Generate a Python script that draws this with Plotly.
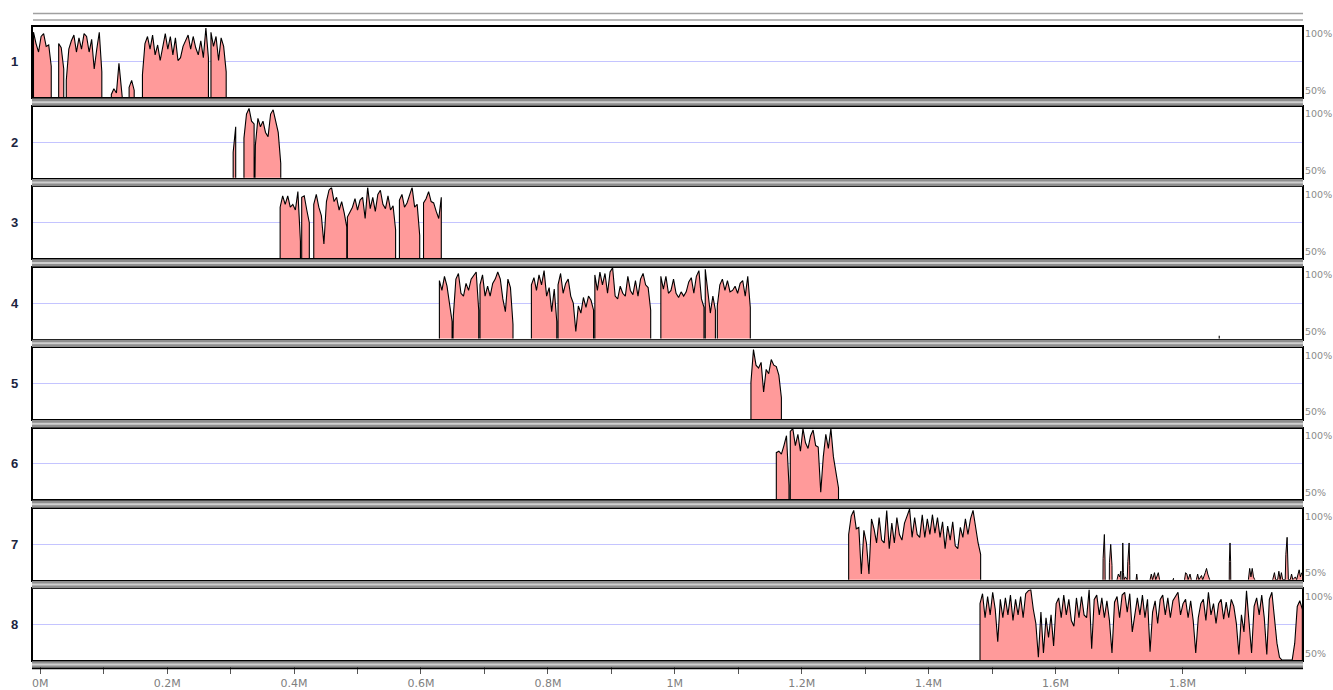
import plotly.graph_objects as go

# ---------------- data (conservation %, sampled every STEP_KB kb) ----------------
STEP_KB = 4
X_RANGE_KB = [-11.5, 1988.5]
Y_RANGE_PCT = [50, 100]

track_labels = ["1", "2", "3", "4", "5", "6", "7", "8"]

t1_starts = [-10.7, 29, 41, 112, 140, 161, 269]
t1_values = [
    [96, 88, 82, 93, 95, 86, 87, 72],
    [88, 85, 70],
    [62, 84, 90, 94, 82, 92, 84, 95, 93, 82, 91, 70, 84, 96, 68],
    [52, 56, 53, 74, 52],
    [57, 62, 55],
    [66, 88, 93, 84, 94, 80, 87, 76, 86, 95, 84, 93, 80, 92, 76, 78, 86, 90, 94, 84, 93, 85, 80, 90, 78, 99, 78],
    [96, 86, 93, 76, 92, 86, 68],
]

t2_starts = [304, 321, 339]
t2_values = [
    [68, 86],
    [78, 95, 99, 90, 88],
    [73, 92, 86, 90, 82, 79, 95, 98, 90, 82, 60],
]

t3_starts = [378, 412, 431, 484, 566, 604]
t3_values = [
    [86, 94, 88, 94, 86, 88, 84, 97, 62],
    [93, 94, 84, 75],
    [88, 95, 86, 80, 60, 90, 98, 100, 90, 93, 84, 90, 82, 72],
    [79, 82, 86, 92, 84, 91, 93, 78, 100, 85, 93, 83, 95, 98, 88, 85, 94, 84, 87, 70],
    [91, 95, 86, 89, 94, 100, 86, 88, 66],
    [89, 92, 97, 90, 89, 83, 78, 93],
]

t4_starts = [629, 651, 693, 774, 816, 874, 978, 1048, 1067, 1858]
t4_values = [
    [91, 84, 94, 87, 76, 62],
    [66, 92, 96, 82, 80, 89, 84, 92, 95, 97, 70],
    [88, 95, 80, 87, 80, 89, 92, 97, 92, 78, 69, 92, 86, 60],
    [88, 93, 84, 95, 88, 98, 80, 86, 69, 85, 62],
    [88, 96, 82, 89, 92, 80, 75, 55, 73, 68, 79, 72, 80, 77, 70],
    [95, 84, 97, 88, 96, 82, 97, 100, 80, 78, 87, 82, 80, 94, 84, 81, 91, 80, 92, 96, 88, 86, 70],
    [94, 85, 94, 82, 84, 92, 82, 79, 83, 80, 83, 90, 93, 82, 94, 98, 78, 72],
    [99, 82, 68, 80, 70],
    [73, 88, 92, 84, 91, 83, 84, 87, 82, 89, 91, 80, 94, 72],
    [52],
]

t5_starts = [1120]
t5_values = [
    [76, 99, 88, 86, 90, 69, 85, 82, 92, 88, 87, 81, 65],
]

t6_starts = [1160, 1182]
t6_values = [
    [83, 84, 82, 88, 95, 60],
    [98, 100, 88, 96, 84, 100, 90, 86, 95, 99, 88, 87, 55, 80, 96, 86, 100, 80, 70, 58],
]

t7_starts = [1274]
t7_values = [
    [82, 95, 99, 86, 87, 54, 85, 76, 54, 93, 86, 76, 94, 78, 76, 99, 72, 90, 76, 94,
     82, 78, 90, 95, 100, 80, 94, 82, 80, 96, 80, 93, 82, 96, 83, 94, 80, 91, 72, 88,
     78, 91, 74, 72, 87, 80, 93, 82, 93, 99, 86, 76, 68],
]
# sparse low-conservation hits in track 7 (0 = no alignment)
t7_sparse_kb = [1674, 1675, 1677, 1678, 1679,
                1684, 1685, 1687, 1689, 1690,
                1697, 1699, 1701, 1703, 1704, 1705, 1706, 1707, 1708, 1710,
                1713, 1714, 1716, 1717, 1718,
                1727, 1728, 1729, 1730,
                1749, 1751, 1753, 1756, 1758, 1760, 1762, 1764, 1765,
                1785, 1786, 1787,
                1803, 1805, 1807, 1809, 1812, 1814, 1815,
                1822, 1824, 1826, 1830, 1832, 1836, 1838, 1840, 1843, 1844,
                1873, 1874, 1875, 1876, 1877,
                1904, 1906, 1908, 1910, 1912, 1914, 1915,
                1943, 1945, 1947, 1950, 1952, 1954, 1956, 1958,
                1962, 1963, 1965, 1966, 1967,
                1970, 1972, 1974, 1978, 1980, 1984, 1986, 1988]
t7_sparse_pct = [0, 65, 82, 64, 0,
                 0, 62, 75, 60, 0,
                 50, 54, 52, 56, 0, 58, 76, 55, 50, 52,
                 50, 63, 76, 60, 0,
                 50, 54, 50, 0,
                 50, 54, 50, 55, 50, 53, 55, 50, 0,
                 50, 51, 0,
                 50, 55, 54, 50, 54, 50, 0,
                 50, 54, 50, 53, 50, 55, 58, 54, 50, 0,
                 0, 63, 76, 63, 0,
                 50, 58, 52, 58, 52, 50, 0,
                 50, 55, 50, 50, 56, 50, 55, 50,
                 50, 68, 80, 66, 50,
                 50, 54, 50, 52, 50, 57, 52, 55]

t8_starts = [1481]
t8_values = [
    [90, 97, 80, 95, 82, 98, 86, 63, 93, 80,
     94, 82, 96, 78, 93, 82, 95, 80, 97, 99,
     100, 86, 76, 52, 84, 55, 80, 66, 82, 60,
     90, 94, 80, 96, 82, 93, 78, 74, 94, 80,
     95, 82, 80, 100, 58, 93, 96, 82, 94, 80,
     92, 78, 55, 91, 95, 80, 96, 98, 84, 97,
     70, 82, 94, 82, 96, 80, 93, 56, 84, 92,
     76, 93, 96, 82, 94, 80, 92, 95, 98, 82,
     90, 93, 80, 92, 78, 55, 80, 90, 93, 78,
     98, 82, 90, 76, 90, 93, 79, 91, 80, 93,
     88, 76, 54, 82, 70, 99, 78, 55, 88, 94,
     82, 96, 80, 54, 93, 98, 80,
     62, 52, 50, 50, 50, 50, 50, 62, 88, 92, 86],
]

tick_kb = [0, 200, 400, 600, 800, 1000, 1200, 1400, 1600, 1800]
tick_text = ["0M", "0.2M", "0.4M", "0.6M", "0.8M", "1M", "1.2M", "1.4M", "1.6M", "1.8M"]
minor_tick_kb = [100, 300, 500, 700, 900, 1100, 1300, 1500, 1700, 1900]

all_starts = [t1_starts, t2_starts, t3_starts, t4_starts, t5_starts, t6_starts, t7_starts, t8_starts]
all_values = [t1_values, t2_values, t3_values, t4_values, t5_values, t6_values, t7_values, t8_values]

# ---------------- layout geometry ----------------
W, H = 1333, 690
PLOT_L, PLOT_R = 32, 1302
TOP0, PITCH, PANEL_H = 26.7, 80.76, 71.0
FILL = "#ff9a9a"


def px_x(p):
    return p / W


def px_y(p):
    return 1 - p / H


def build_xy(starts, values):
    xs, ys = [], []
    for s, vals in zip(starts, values):
        pos = [s + i * STEP_KB for i in range(len(vals))]
        xs += [pos[0]] + pos + [pos[-1]]
        ys += [0] + list(vals) + [0]
    return xs, ys


fig = go.Figure()
layout = dict(
    width=W, height=H,
    margin=dict(l=0, r=0, t=0, b=0),
    paper_bgcolor="white", plot_bgcolor="white",
    showlegend=False,
    font=dict(family="DejaVu Sans", size=11, color="#777"),
)
shapes = []
annotations = []

for k in range(8):
    n = k + 1
    top = TOP0 + PITCH * k
    bot = top + PANEL_H
    xs, ys = build_xy(all_starts[k], all_values[k])
    xa = "x" if n == 1 else f"x{n}"
    ya = "y" if n == 1 else f"y{n}"
    fig.add_trace(go.Scatter(x=xs, y=ys, mode="lines", fill="tozeroy",
                             fillcolor=FILL,
                             line=dict(color="black", width=1.1),
                             xaxis=xa, yaxis=ya, hoverinfo="skip"))
    if n == 7:
        fig.add_trace(go.Scatter(x=t7_sparse_kb, y=t7_sparse_pct, mode="lines",
                                 fill="tozeroy", fillcolor=FILL,
                                 line=dict(color="black", width=1),
                                 xaxis=xa, yaxis=ya, hoverinfo="skip"))
    xkey = "xaxis" if n == 1 else f"xaxis{n}"
    ykey = "yaxis" if n == 1 else f"yaxis{n}"
    xdef = dict(domain=[px_x(PLOT_L), px_x(PLOT_R)], range=X_RANGE_KB,
                anchor=ya, showgrid=False, zeroline=False,
                showline=True, mirror=True, linecolor="black", linewidth=2,
                showticklabels=False, ticks="", fixedrange=True)
    if n == 8:
        xdef.update(showticklabels=True, ticks="outside", ticklen=12, tickwidth=1,
                    tickcolor="#555", tickmode="array", tickvals=tick_kb,
                    ticktext=tick_text,
                    tickfont=dict(family="DejaVu Sans", size=11, color="#808080"),
                    minor=dict(tickmode="array", tickvals=minor_tick_kb,
                               ticks="outside", ticklen=12, tickwidth=1,
                               tickcolor="#555", showgrid=False))
    layout[xkey] = xdef
    layout[ykey] = dict(domain=[px_y(bot), px_y(top)], range=Y_RANGE_PCT,
                        anchor=xa, tickmode="array", tickvals=[75],
                        showgrid=True, gridcolor="#c4c4ff", gridwidth=1,
                        zeroline=False, showticklabels=False, ticks="",
                        showline=True, mirror=True, linecolor="black",
                        linewidth=2, fixedrange=True)

    # gray separator band below each panel
    band_top = bot + 1.2
    band_bot = (TOP0 + PITCH * (k + 1) - 1.2) if n < 8 else bot + 7.5
    shapes.append(dict(type="rect", xref="paper", yref="paper",
                       x0=px_x(PLOT_L - 1), x1=px_x(PLOT_R + 1),
                       y0=px_y(band_bot), y1=px_y(band_top),
                       fillcolor="#8e8e8e", line=dict(width=0), layer="above"))
    mid = (band_top + band_bot) / 2
    shapes.append(dict(type="line", xref="paper", yref="paper",
                       x0=px_x(PLOT_L - 1), x1=px_x(PLOT_R + 1),
                       y0=px_y(mid), y1=px_y(mid),
                       line=dict(color="#cfcfcf", width=2), layer="above"))
    if n == 8:
        shapes.append(dict(type="line", xref="paper", yref="paper",
                           x0=px_x(PLOT_L - 1), x1=px_x(PLOT_R + 1),
                           y0=px_y(band_bot + 0.8), y1=px_y(band_bot + 0.8),
                           line=dict(color="black", width=1.6), layer="above"))

    annotations.append(dict(text=f"<b>{track_labels[k]}</b>", xref="paper", yref="paper",
                            x=px_x(14), y=px_y((top + bot) / 2), showarrow=False,
                            xanchor="center", yanchor="middle",
                            font=dict(family="Liberation Sans", size=13, color="#1b2440")))
    annotations.append(dict(text="100%", xref="paper", yref="paper",
                            x=px_x(PLOT_R + 1.5), y=px_y(top + 7), showarrow=False,
                            xanchor="left", yanchor="middle", borderpad=0,
                            font=dict(family="DejaVu Sans", size=9.5, color="#8a8a8a")))
    annotations.append(dict(text="50%", xref="paper", yref="paper",
                            x=px_x(PLOT_R + 1.5), y=px_y(top + 64), showarrow=False,
                            xanchor="left", yanchor="middle", borderpad=0,
                            font=dict(family="DejaVu Sans", size=9.5, color="#8a8a8a")))

# two thin gray rules above the first panel
for yy in (13.5, 20.0):
    shapes.append(dict(type="line", xref="paper", yref="paper",
                       x0=px_x(PLOT_L), x1=px_x(PLOT_R + 1),
                       y0=px_y(yy), y1=px_y(yy),
                       line=dict(color="#a0a0a0", width=1.5)))

layout["shapes"] = shapes
layout["annotations"] = annotations
fig.update_layout(**layout)

fig.write_html("out.html", config={"displayModeBar": False},
               post_script="document.body.style.margin='0';")
